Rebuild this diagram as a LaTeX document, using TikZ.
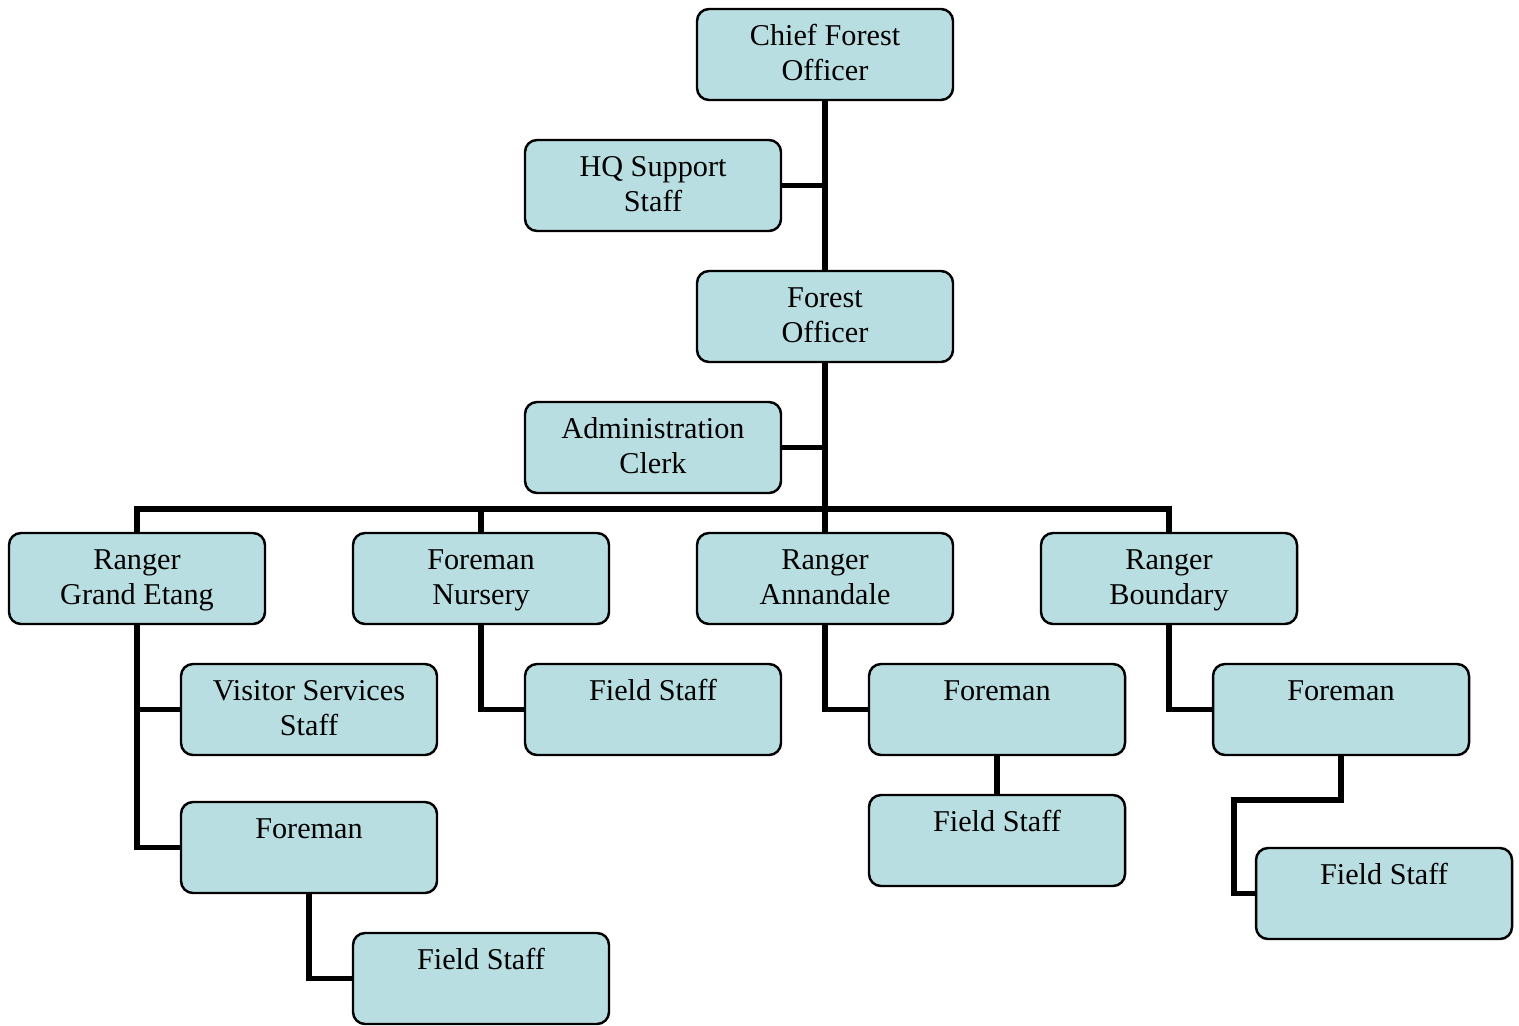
\documentclass[tikz,border=0pt]{standalone}
\usepackage{fontspec}
\setmainfont{Liberation Serif}
\definecolor{unitfill}{RGB}{184,222,226}
\newcommand{\twoline}[2]{\rule{0pt}{8.1pt}#1\\\strut #2}

\begin{document}
\begin{tikzpicture}[
        unit/.style={draw, fill=unitfill, rounded corners=0.12cm, line width=0.7pt,
            align=center, minimum width=2.56cm, minimum height=0.91cm, inner sep=0pt,
            font=\fontsize{8.6}{9.96}\selectfont},
        every path/.style={line width=1.45pt}
    ]
        \useasboundingbox (0,0) rectangle (15.19,-10.25);
        % top of the office
        \node[unit] (chief) at (8.25,-0.545) {\twoline{Chief Forest}{Officer}};
        \node[unit] (hq) at (6.53,-1.855) {\twoline{HQ Support}{Staff}};
        \node[unit] (forest) at (8.25,-3.165) {\twoline{Forest}{Officer}};
        \node[unit] (admin) at (6.53,-4.475) {\twoline{Administration}{Clerk}};
        % rangers and foremen
        \node[unit] (grandetang) at (1.37,-5.785) {\twoline{Ranger}{Grand Etang}};
        \node[unit] (nursery) at (4.81,-5.785) {\twoline{Foreman}{Nursery}};
        \node[unit] (annandale) at (8.25,-5.785) {\twoline{Ranger}{Annandale}};
        \node[unit] (boundary) at (11.69,-5.785) {\twoline{Ranger}{Boundary}};
        % lower levels
        \node[unit] (visitor) at (3.09,-7.095) {\twoline{Visitor Services}{Staff}};
        \node[unit] (fieldN) at (6.53,-7.095) {\twoline{Field Staff}{}};
        \node[unit] (foremanA) at (9.97,-7.095) {\twoline{Foreman}{}};
        \node[unit] (foremanB) at (13.41,-7.095) {\twoline{Foreman}{}};
        \node[unit] (foremanGE) at (3.09,-8.475) {\twoline{Foreman}{}};
        \node[unit] (fieldA) at (9.97,-8.405) {\twoline{Field Staff}{}};
        \node[unit] (fieldB) at (13.84,-8.935) {\twoline{Field Staff}{}};
        \node[unit] (fieldGE) at (4.81,-9.785) {\twoline{Field Staff}{}};
        \coordinate (bus) at (8.25,-5.09);
        \coordinate (bend) at (12.34,-8.00);
        % connectors
        \draw (chief) -- (forest);
        \draw (hq.east) -- (hq.east -| chief.south);
        \draw (forest) -- (annandale);
        \draw (admin.east) -- (admin.east -| forest.south);
        \draw (grandetang.north) |- (bus) -| (boundary.north);
        \draw (nursery.north) -- (nursery.north |- bus);
        \draw (grandetang.south) |- (foremanGE.west);
        \draw (visitor.west) -- (visitor.west -| grandetang.south);
        \draw (nursery.south) |- (fieldN.west);
        \draw (annandale.south) |- (foremanA.west);
        \draw (foremanA) -- (fieldA);
        \draw (boundary.south) |- (foremanB.west);
        \draw (foremanB.south) |- (bend) |- (fieldB.west);
        \draw (foremanGE.south) |- (fieldGE.west);
    \end{tikzpicture}
\end{document}
